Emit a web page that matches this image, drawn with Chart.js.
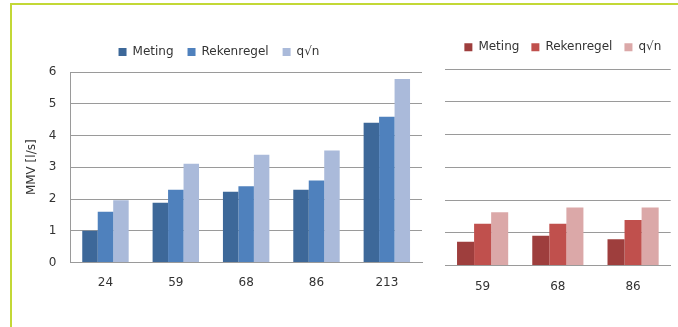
<!DOCTYPE html>
<html>
<head>
<meta charset="utf-8">
<script src="https://cdn.jsdelivr.net/npm/chart.js@4"></script>
<style>
  html, body { margin: 0; padding: 0; background: #fff; }
  body { width: 678px; height: 327px; position: relative; overflow: hidden; }
  .frame { position: absolute; left: 10px; top: 3px; width: 680px; height: 340px;
           border-left: 2px solid #c3d836; border-top: 2px solid #c3d836; }
  .box { position: absolute; top: 6px; height: 321px; }
  #leftBox { left: 12px; width: 418px; }
  #rightBox { left: 432px; width: 246px; }
</style>
</head>
<body>
<div class="frame"></div>
<div class="box" id="leftBox"><canvas id="leftChart"></canvas></div>
<div class="box" id="rightBox"><canvas id="rightChart"></canvas></div>
<script>
const seriesNames = ['Meting', 'Rekenregel', 'q\u221An'];

// linker grafiek: alle locaties
const labelsAll = ['24', '59', '68', '86', '213'];
const metingAll = [1.00, 1.88, 2.23, 2.29, 4.40];
const rekenregelAll = [1.60, 2.29, 2.40, 2.58, 4.59];
const qvnAll = [1.96, 3.11, 3.39, 3.53, 5.78];

// rechter grafiek: subset
const labelsSub = ['59', '68', '86'];
const metingSub = [0.73, 0.91, 0.80];
const rekenregelSub = [1.28, 1.28, 1.39];
const qvnSub = [1.63, 1.77, 1.77];

const blues = ['#3d6899', '#4f81bd', '#aabada'];
const reds = ['#9e3e3d', '#c0504d', '#dba8a8'];

const font = { family: 'DejaVu Sans', size: 12 };
const gridColor = '#9a9a9a';

// extra ruimte onder de legenda, en optioneel wat horizontale verschuiving
const legendTweak = (extra, shiftX) => ({
    id: 'legendTweak',
    beforeInit(chart) {
        const fit = chart.legend.fit;
        chart.legend.fit = function () {
            fit.bind(chart.legend)();
            this.height += extra;
        };
    },
    afterLayout(chart) {
        chart.legend.left += shiftX;
        chart.legend.right += shiftX;
    }
});

function makeSets(values, colors, catPct) {
    return values.map((v, i) => ({
        label: seriesNames[i],
        data: v,
        backgroundColor: colors[i],
        borderWidth: 0,
        categoryPercentage: catPct,
        barPercentage: 1.0
    }));
}

function legendOpts(pad) {
    return {
        display: true,
        position: 'top',
        labels: {
            boxWidth: 8,
            boxHeight: 8,
            padding: pad,
            color: '#333',
            font: font
        }
    };
}

Chart.defaults.animation = false;

new Chart(document.getElementById('leftChart'), {
    type: 'bar',
    data: {
        labels: labelsAll,
        datasets: makeSets([metingAll, rekenregelAll, qvnAll], blues, 0.66)
    },
    options: {
        responsive: true,
        maintainAspectRatio: false,
        layout: { padding: { top: 26, left: 0, right: 8, bottom: 0 } },
        plugins: {
            legend: legendOpts(14),
            tooltip: { enabled: false }
        },
        scales: {
            x: {
                grid: { display: false },
                border: { display: true, color: gridColor },
                ticks: { color: '#333', font: font, padding: 5 },
                afterFit(scale) { scale.height = 64.5; }
            },
            y: {
                min: 0,
                max: 6,
                ticks: { stepSize: 1, color: '#333', font: font, padding: 14 },
                grid: { color: gridColor, drawTicks: false },
                border: { display: true, color: gridColor },
                title: { display: true, text: 'MMV [l/s]', color: '#333', font: font, padding: { top: 13, bottom: 0 } },
                afterFit(scale) { scale.width = 58.3; }
            }
        }
    },
    plugins: [legendTweak(4, 2)]
});

new Chart(document.getElementById('rightChart'), {
    type: 'bar',
    data: {
        labels: labelsSub,
        datasets: makeSets([metingSub, rekenregelSub, qvnSub], reds, 0.68)
    },
    options: {
        responsive: true,
        maintainAspectRatio: false,
        layout: { padding: { top: 23.3, left: 13, right: 7.3, bottom: 0 } },
        plugins: {
            legend: legendOpts(12),
            tooltip: { enabled: false }
        },
        scales: {
            x: {
                grid: { display: false },
                border: { display: true, color: gridColor },
                ticks: { color: '#333', font: font, padding: 6.5 },
                afterFit(scale) { scale.height = 61.5; }
            },
            y: {
                min: 0,
                max: 6,
                ticks: { display: false, stepSize: 1 },
                grid: { color: gridColor, drawTicks: false },
                border: { display: false },
                afterFit(scale) { scale.width = 0; }
            }
        }
    },
    plugins: [legendTweak(6, 5)]
});
</script>
</body>
</html>
